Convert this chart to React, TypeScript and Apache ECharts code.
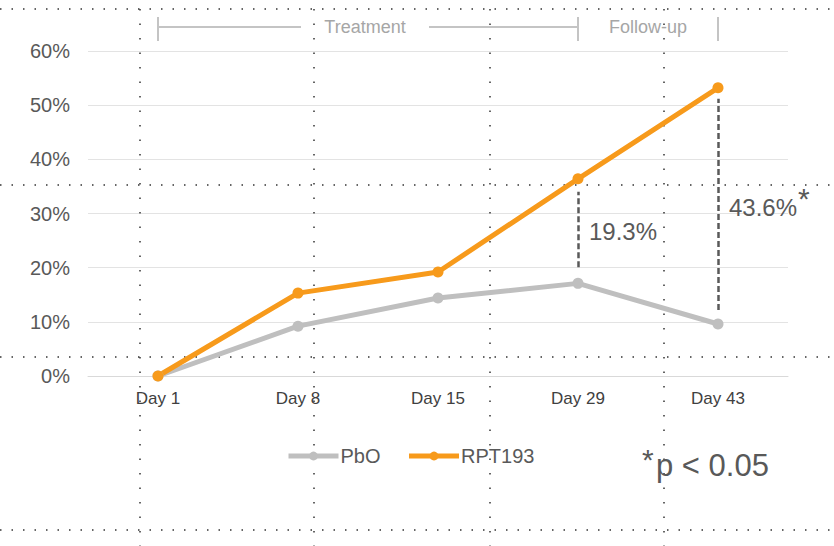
import React, { useEffect, useRef } from "react";
import * as echarts from "echarts";

const categories = ["Day 1", "Day 8", "Day 15", "Day 29", "Day 43"];
const pboValues = [0, 9.2, 14.4, 17.1, 9.6];
const rptValues = [0, 15.3, 19.2, 36.4, 53.2];
const seriesNames = ["PbO", "RPT193"];
const diffDays = ["Day 29", "Day 43"];
const diffFrom = [20.1, 12.2];
const diffTo = [34.0, 51.2];
const diffTexts = ["19.3%", "43.6%"];
const phaseLabels = ["Treatment", "Follow-up"];
const pNote = "p < 0.05";

const FONT = "'Liberation Sans', Arial, sans-serif";
const GRAY = "#bfbfbf";
const ORANGE = "#f79a1b";
const TEXT = "#595959";

export default function App() {
  const ref = useRef<HTMLDivElement>(null);
  useEffect(() => {
    const chart = echarts.init(ref.current!, null, { renderer: "svg" });
    chart.setOption({
      animation: false,
      grid: { left: 88, right: 46, top: 51, bottom: 170 },
      legend: {
        left: 281,
        top: 441,
        itemWidth: 50,
        itemHeight: 11,
        itemGap: 26,
        lineStyle: { width: 5 },
        textStyle: { color: TEXT, fontSize: 20, fontFamily: FONT, padding: [0, 0, 0, -3] },
        data: seriesNames,
      },
      xAxis: {
        type: "category",
        data: categories,
        axisLine: { show: true, lineStyle: { color: "#d9d9d9" } },
        axisTick: { show: false },
        axisLabel: { color: "#404040", fontSize: 17, fontFamily: FONT, margin: 14 },
      },
      yAxis: {
        type: "value",
        min: 0,
        max: 60,
        interval: 10,
        axisLabel: { formatter: "{value}%", color: TEXT, fontSize: 20, fontFamily: FONT, margin: 18 },
        splitLine: { lineStyle: { color: "#e3e3e3", width: 1 } },
        axisLine: { show: false },
        axisTick: { show: false },
      },
      series: [
        {
          name: seriesNames[0],
          type: "line",
          data: pboValues,
          symbol: "circle",
          symbolSize: 11,
          lineStyle: { color: GRAY, width: 5 },
          itemStyle: { color: GRAY },
        },
        {
          name: seriesNames[1],
          type: "line",
          data: rptValues,
          symbol: "circle",
          symbolSize: 11,
          lineStyle: { color: ORANGE, width: 5 },
          itemStyle: { color: ORANGE },
          markLine: {
            silent: true,
            symbol: "none",
            label: { show: false },
            lineStyle: { color: TEXT, width: 2.5, type: [6, 3] },
            data: diffDays.map((d, i) => [
              { coord: [d, diffFrom[i]] },
              { coord: [d, diffTo[i]] },
            ]),
          },
        },
      ],
    });

    const px = (cat: string, v: number) =>
      chart.convertToPixel({ gridIndex: 0 } as any, [cat, v]) as number[];
    const x0 = px(categories[0], 0)[0];
    const x29 = px(categories[3], 0)[0];
    const x43 = px(categories[4], 0)[0];
    const by = 27;
    const tMid = (x0 + x29) / 2 - 3;
    const fMid = (x29 + x43) / 2;
    const bracketStyle = { stroke: "#c4c4c4", lineWidth: 2 };

    const graphics: any[] = [];
    // slide guide dotted lines
    [140, 314, 490, 664].forEach((x) =>
      graphics.push({
        type: "line",
        silent: true,
        shape: { x1: x, y1: 9, x2: x, y2: 546 },
        style: { stroke: "#333", lineWidth: 1.5, lineDash: [1.5, 13] },
      })
    );
    [9, 185, 357, 530].forEach((y) =>
      graphics.push({
        type: "line",
        silent: true,
        shape: { x1: 0, y1: y, x2: 834, y2: y },
        style: { stroke: "#333", lineWidth: 1.5, lineDash: [1.5, 10] },
      })
    );
    // phase brackets
    graphics.push(
      { type: "line", silent: true, shape: { x1: x0, y1: by, x2: tMid - 64, y2: by }, style: bracketStyle },
      { type: "line", silent: true, shape: { x1: tMid + 64, y1: by, x2: x29, y2: by }, style: bracketStyle },
      { type: "line", silent: true, shape: { x1: x0, y1: by - 10, x2: x0, y2: by + 14 }, style: bracketStyle },
      { type: "line", silent: true, shape: { x1: x29, y1: by - 10, x2: x29, y2: by + 14 }, style: bracketStyle },
      { type: "line", silent: true, shape: { x1: x43, y1: by - 10, x2: x43, y2: by + 14 }, style: bracketStyle },
      {
        type: "text", silent: true, x: tMid, y: by,
        style: { text: phaseLabels[0], fill: "#a6a6a6", font: `18px ${FONT}`, align: "center", verticalAlign: "middle" },
      },
      {
        type: "text", silent: true, x: fMid, y: by,
        style: { text: phaseLabels[1], fill: "#a6a6a6", font: `18px ${FONT}`, align: "center", verticalAlign: "middle" },
      }
    );
    // difference labels
    diffDays.forEach((d, i) => {
      const top = px(d, diffTo[i]);
      const bot = px(d, diffFrom[i]);
      const cy = i === 0 ? (top[1] + bot[1]) / 2 + 2 : 207;
      graphics.push({
        type: "text", silent: true, x: top[0] + 11, y: cy,
        style: { text: diffTexts[i], fill: TEXT, font: `24px ${FONT}`, align: "left", verticalAlign: "middle" },
      });
    });
    graphics.push({
      type: "text", silent: true, x: 798, y: 198,
      style: { text: "*", fill: TEXT, font: `30px ${FONT}`, align: "left", verticalAlign: "middle" },
    });
    graphics.push(
      {
        type: "text", silent: true, x: 642, y: 459,
        style: { text: "*", fill: TEXT, font: `30px ${FONT}`, align: "left", verticalAlign: "middle" },
      },
      {
        type: "text", silent: true, x: 656, y: 465,
        style: { text: pNote, fill: TEXT, font: `31px ${FONT}`, align: "left", verticalAlign: "middle" },
      }
    );
    chart.setOption({ graphic: graphics });
    return () => chart.dispose();
  }, []);
  return (
    <div
      ref={ref}
      style={{ position: "fixed", left: 0, top: 0, width: 834, height: 546, background: "#fff" }}
    />
  );
}
